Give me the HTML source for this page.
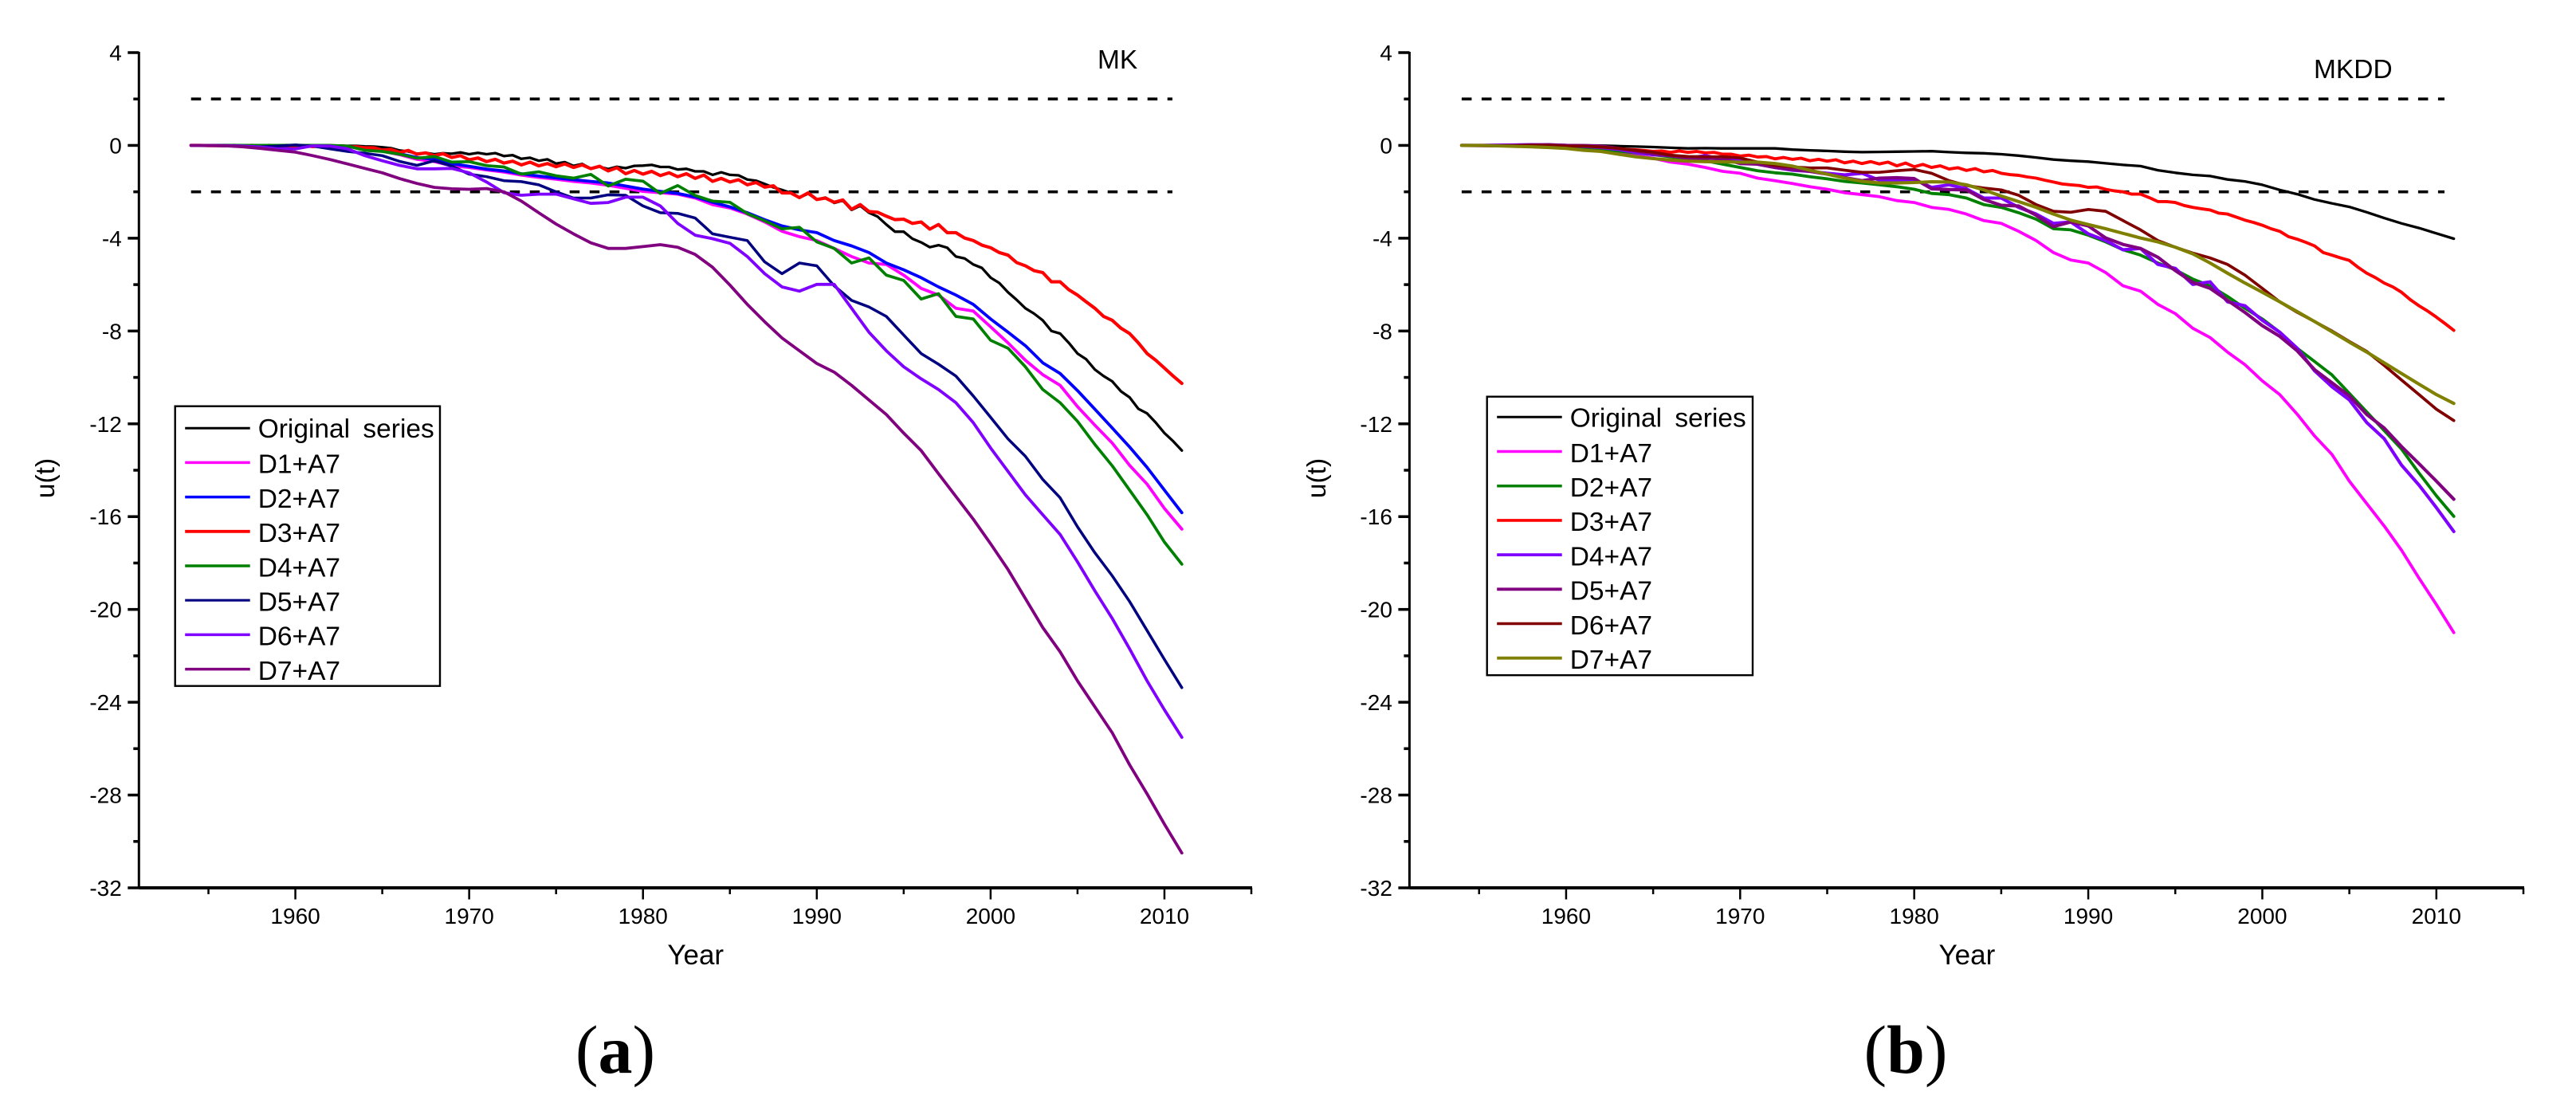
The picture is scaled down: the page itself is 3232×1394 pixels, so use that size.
<!DOCTYPE html>
<html lang="en">
<head>
<meta charset="utf-8">
<title>MK and MKDD u(t) curves</title>
<style>
html,body{margin:0;padding:0;background:#fff;width:3232px;height:1394px;overflow:hidden}
svg{display:block}
text{font-family:"Liberation Sans",sans-serif;fill:#000}
.paren{font-family:"Liberation Serif",serif;font-size:86px}
</style>
</head>
<body>
<svg id="figure" xmlns="http://www.w3.org/2000/svg" width="3232" height="1394" viewBox="0 0 3232 1394">
  <rect width="3232" height="1394" fill="#fff"/>
  <text class="paren" x="772" y="1346" text-anchor="middle">(<tspan font-weight="bold">a</tspan>)</text>
  <text class="paren" x="2391" y="1346" text-anchor="middle">(<tspan font-weight="bold">b</tspan>)</text>
</svg>
<script>
// ---- shared data ----
const firstYear = 1954;
const thresholds = [2, -2];
const xMajorTicks = [1960, 1970, 1980, 1990, 2000, 2010];
const xMinorTicks = [1955, 1965, 1975, 1985, 1995, 2005, 2015];
const yMajorTicks = [4, 0, -4, -8, -12, -16, -20, -24, -28, -32];
const yMinorTicks = [2, -2, -6, -10, -14, -18, -22, -26, -30];
const legendLabels = ["Original series", "D1+A7", "D2+A7", "D3+A7", "D4+A7", "D5+A7", "D6+A7", "D7+A7"];

// ---- panel (a) MK: half-year samples ----
const mkOriginal = [0,0,0,0,0,0,0,0,0,0,0,0,.01,.01,0,0,-.01,-.01,-.02,-.02,-.04,-.05,
-.08,-.12,-.22,-.26,-.36,-.32,-.38,-.34,-.36,-.3,-.38,-.32,-.38,-.33,-.46,-.42,-.58,-.53,-.66,-.6,-.78,-.72,-.88,-.8,-1.0,-.92,-1.02,-.92,-.98,-.88,
-.87,-.84,-.93,-.93,-1.04,-1.01,-1.12,-1.12,-1.27,-1.16,-1.27,-1.29,-1.47,-1.52,-1.66,-1.81,-1.92,-2.05,-2.25,-2.08,-2.33,-2.25,-2.48,-2.38,-2.78,-2.6,-2.9,-3.07,-3.41,-3.72,
-3.72,-4.02,-4.18,-4.39,-4.3,-4.41,-4.79,-4.87,-5.13,-5.28,-5.7,-5.93,-6.33,-6.66,-7.02,-7.25,-7.54,-8.0,-8.11,-8.51,-8.97,-9.22,-9.66,-9.94,-10.17,-10.6,-10.86,-11.35,-11.55,-11.95,-12.4,-12.75,-13.15];
const mkD3 = [0,0,-.01,-.01,-.02,0,-.02,0,-.02,0,-.03,0,-.04,-.01,-.05,-.02,-.05,-.03,-.07,-.06,-.1,-.1,
-.2,-.17,-.3,-.22,-.38,-.32,-.44,-.36,-.52,-.44,-.62,-.54,-.7,-.6,-.76,-.68,-.84,-.72,-.88,-.78,-.92,-.8,-.95,-.84,-1.0,-.9,-1.1,-.96,-1.22,-1.08,
-1.24,-1.12,-1.3,-1.18,-1.35,-1.22,-1.42,-1.28,-1.55,-1.42,-1.58,-1.48,-1.7,-1.6,-1.8,-1.74,-2.05,-2.05,-2.25,-2.05,-2.33,-2.27,-2.45,-2.35,-2.75,-2.55,-2.85,-2.88,-3.05,-3.2,
-3.18,-3.36,-3.3,-3.61,-3.41,-3.76,-3.76,-3.99,-4.1,-4.3,-4.41,-4.62,-4.73,-5.05,-5.19,-5.4,-5.48,-5.88,-5.88,-6.22,-6.45,-6.74,-7.02,-7.37,-7.54,-7.88,-8.11,-8.51,-8.97,-9.26,-9.6,-9.94,-10.26];
// ---- panel (a) MK: annual samples ----
const mkD1 = [0,0,0,-.01,-.02,-.02,-.02,-.02,-.03,-.06,-.12,
-.25,-.4,-.6,-.7,-.88,-.95,-1.06,-1.15,-1.28,-1.38,-1.46,-1.55,-1.62,-1.72,-1.85,
-1.98,-2.04,-2.1,-2.27,-2.55,-2.7,-2.96,-3.3,-3.7,-3.93,-4.1,-4.44,-4.79,-5.07,-5.13,-5.59,-6.16,-6.45,-7.02,-7.14,
-7.82,-8.51,-9.26,-9.88,-10.34,-11.26,-12.06,-12.83,-13.79,-14.6,-15.65,-16.54];
const mkD2 = [0,0,0,-.01,-.02,-.02,-.02,-.02,-.03,-.05,-.1,
-.22,-.36,-.52,-.6,-.78,-.9,-1.02,-1.1,-1.22,-1.32,-1.4,-1.48,-1.55,-1.62,-1.75,
-1.88,-1.98,-2.07,-2.22,-2.45,-2.65,-2.9,-3.2,-3.47,-3.64,-3.76,-4.1,-4.33,-4.62,-5.07,-5.36,-5.7,-6.1,-6.45,-6.85,
-7.48,-8.05,-8.63,-9.37,-9.83,-10.57,-11.37,-12.18,-13.0,-13.88,-14.86,-15.83];
const mkD4 = [0,0,.01,0,0,0,.01,0,0,-.03,-.21,
-.26,-.38,-.55,-.48,-.72,-.7,-.87,-.93,-1.24,-1.14,-1.31,-1.41,-1.25,-1.75,-1.46,
-1.54,-2.07,-1.73,-2.16,-2.4,-2.45,-2.94,-3.25,-3.6,-3.53,-4.16,-4.44,-5.07,-4.85,-5.59,-5.82,-6.62,-6.39,-7.37,-7.48,
-8.4,-8.74,-9.54,-10.52,-11.09,-11.89,-12.89,-13.81,-14.86,-15.92,-17.1,-18.05];
const mkD5 = [0,-.01,-.02,-.04,-.06,-.03,.02,-.03,-.15,-.26,-.34,
-.44,-.69,-.86,-.66,-.89,-1.24,-1.35,-1.52,-1.56,-1.7,-2.0,-2.27,-2.27,-2.13,-2.15,
-2.61,-2.9,-2.93,-3.13,-3.81,-3.96,-4.1,-5.02,-5.53,-5.07,-5.19,-6.05,-6.68,-6.96,-7.37,-8.17,-8.97,-9.43,-9.94,-10.8,
-11.72,-12.65,-13.4,-14.4,-15.19,-16.44,-17.56,-18.55,-19.66,-20.91,-22.16,-23.37];
const mkD6 = [0,0,-.01,-.03,-.07,-.15,-.15,-.02,-.03,-.15,-.44,
-.66,-.86,-1.01,-1.01,-.99,-1.18,-1.58,-2.04,-2.15,-2.1,-2.1,-2.3,-2.5,-2.46,-2.23,
-2.23,-2.61,-3.36,-3.87,-4.02,-4.22,-4.79,-5.53,-6.1,-6.28,-5.99,-5.99,-7.02,-8.05,-8.85,-9.54,-10.06,-10.52,-11.09,-11.95,
-13.04,-14.05,-15.06,-15.92,-16.77,-17.95,-19.2,-20.39,-21.7,-23.08,-24.33,-25.51];
const mkD7 = [0,0,-.02,-.06,-.13,-.21,-.29,-.44,-.61,-.8,-.99,
-1.18,-1.43,-1.64,-1.81,-1.87,-1.89,-1.86,-2.0,-2.4,-2.9,-3.39,-3.81,-4.2,-4.44,-4.44,
-4.36,-4.28,-4.39,-4.7,-5.25,-6.02,-6.85,-7.6,-8.3,-8.85,-9.4,-9.77,-10.34,-10.97,-11.6,-12.4,-13.15,-14.15,-15.13,-16.11,
-17.17,-18.28,-19.53,-20.78,-21.83,-23.08,-24.2,-25.32,-26.7,-27.95,-29.26,-30.5];

// ---- panel (b) MKDD: half-year samples ----
const mkddD3 = [0,0,0,0,0,.01,.01,.02,0,.01,0,-.01,-.03,-.02,-.04,-.04,-.07,-.09,-.14,-.17,-.19,-.22,
-.26,-.24,-.3,-.24,-.3,-.26,-.32,-.3,-.38,-.38,-.46,-.42,-.5,-.48,-.58,-.52,-.6,-.55,-.66,-.6,-.68,-.62,-.75,-.68,-.78,-.7,-.8,-.72,-.88,-.76,
-.92,-.82,-.95,-.88,-1.02,-.96,-1.08,-1.0,-1.14,-1.08,-1.2,-1.26,-1.29,-1.36,-1.41,-1.5,-1.58,-1.66,-1.7,-1.73,-1.81,-1.79,-1.89,-1.96,-2.0,-2.1,-2.1,-2.25,-2.42,-2.42,
-2.46,-2.59,-2.67,-2.73,-2.78,-2.92,-2.96,-3.09,-3.22,-3.32,-3.44,-3.59,-3.7,-3.93,-4.04,-4.18,-4.33,-4.62,-4.73,-4.85,-4.96,-5.25,-5.51,-5.7,-5.93,-6.1,-6.33,-6.65,-6.91,-7.14,-7.4,-7.68,-7.97];
// ---- panel (b) MKDD: annual samples ----
const mkddOriginal = [0,0,0,0,0,0,0,0,-.01,-.03,-.05,
-.07,-.1,-.13,-.12,-.13,-.13,-.13,-.13,-.18,-.21,-.24,-.27,-.29,-.28,-.27,
-.26,-.25,-.29,-.32,-.34,-.38,-.44,-.52,-.61,-.66,-.7,-.77,-.84,-.89,-1.07,-1.18,-1.27,-1.32,-1.47,-1.55,
-1.7,-1.92,-2.1,-2.33,-2.5,-2.65,-2.88,-3.13,-3.36,-3.56,-3.79,-4.02];
const mkddD1 = [0,0,0,-.01,-.02,-.03,-.04,-.1,-.24,-.32,-.44,
-.55,-.72,-.81,-.95,-1.12,-1.2,-1.41,-1.52,-1.64,-1.78,-1.89,-2.04,-2.12,-2.21,-2.38,
-2.46,-2.67,-2.76,-2.96,-3.24,-3.36,-3.7,-4.1,-4.62,-4.94,-5.07,-5.48,-6.05,-6.28,-6.85,-7.25,-7.88,-8.28,-8.91,-9.45,
-10.15,-10.74,-11.58,-12.52,-13.32,-14.47,-15.44,-16.4,-17.45,-18.65,-19.79,-21.0];
const mkddD2 = [0,0,0,0,0,-.01,-.03,-.08,-.15,-.24,-.32,
-.4,-.49,-.58,-.66,-.81,-.95,-1.09,-1.18,-1.24,-1.35,-1.44,-1.55,-1.62,-1.7,-1.78,
-1.89,-2.07,-2.12,-2.27,-2.55,-2.67,-2.9,-3.18,-3.59,-3.64,-3.87,-4.16,-4.5,-4.73,-5.07,-5.36,-5.76,-6.05,-6.51,-7.02,
-7.48,-8.05,-8.74,-9.31,-9.89,-10.69,-11.49,-12.29,-13.09,-14.12,-15.1,-15.99];
const mkddD4 = [0,0,.01,.02,.03,.02,0,-.04,-.09,-.17,-.3,
-.4,-.44,-.55,-.44,-.61,-.61,-.81,-.95,-1.07,-1.12,-1.2,-1.27,-1.2,-1.5,-1.5,
-1.47,-1.81,-1.7,-1.87,-2.27,-2.27,-2.67,-2.96,-3.36,-3.3,-3.81,-4.1,-4.5,-4.44,-5.13,-5.3,-5.99,-5.88,-6.74,-6.91,
-7.54,-8.05,-8.74,-9.71,-10.4,-10.97,-11.95,-12.64,-13.78,-14.64,-15.61,-16.64];
const mkddD5 = [0,-.01,-.02,-.01,.02,.03,0,-.01,-.03,-.13,-.24,
-.36,-.44,-.55,-.55,-.58,-.78,-.81,-.95,-1.04,-1.12,-1.24,-1.39,-1.52,-1.41,-1.39,
-1.43,-1.87,-1.9,-1.92,-2.33,-2.58,-2.61,-3.01,-3.5,-3.3,-3.47,-3.99,-4.27,-4.44,-4.82,-5.4,-5.9,-6.16,-6.68,-7.2,
-7.77,-8.23,-8.85,-9.66,-10.23,-10.8,-11.6,-12.18,-12.98,-13.72,-14.47,-15.25];
const mkddD6 = [0,0,-.01,-.01,0,0,-.03,-.03,-.07,-.13,-.21,
-.29,-.42,-.48,-.49,-.49,-.54,-.72,-.86,-.93,-.97,-.97,-1.07,-1.16,-1.16,-1.09,
-1.04,-1.2,-1.52,-1.73,-1.84,-1.92,-2.15,-2.55,-2.84,-2.88,-2.76,-2.84,-3.24,-3.64,-4.1,-4.39,-4.64,-4.85,-5.13,-5.59,
-6.16,-6.74,-7.19,-7.59,-8.0,-8.45,-8.88,-9.48,-10.11,-10.74,-11.37,-11.86];
const mkddD7 = [0,0,-.02,-.04,-.06,-.09,-.13,-.21,-.26,-.38,-.49,
-.57,-.63,-.68,-.7,-.71,-.72,-.72,-.78,-.89,-1.07,-1.24,-1.41,-1.55,-1.62,-1.62,
-1.6,-1.57,-1.58,-1.7,-1.92,-2.18,-2.42,-2.67,-2.96,-3.22,-3.41,-3.59,-3.79,-3.99,-4.16,-4.39,-4.67,-5.07,-5.51,-5.93,
-6.33,-6.74,-7.16,-7.59,-8.03,-8.48,-8.91,-9.37,-9.83,-10.29,-10.74,-11.12];

// ---- drawing ----
const SVG_NS = 'http://www.w3.org/2000/svg';
const figure = document.getElementById('figure');

function node(tag, parent, attrs) {
  const el = document.createElementNS(SVG_NS, tag);
  for (const k in attrs) el.setAttribute(k, attrs[k]);
  parent.appendChild(el);
  return el;
}
function tickText(parent, x, y, anchor, size, str, name) {
  const t = node('text', parent, { x: x, y: y, 'text-anchor': anchor, 'font-size': size });
  t.textContent = str;
  
  
  return t;
}

function drawPanel(p) {
  const g = node('g', figure, {});
  
  

  const xOf = yr => p.xLeft + (yr - 1951) * (p.xRight - p.xLeft) / (2015 - 1951);
  const yOf = v => 66 + (4 - v) * (1114 - 66) / 36;

  // axes
  const yAxis = node('line', g, { x1: p.xLeft, x2: p.xLeft, y1: yOf(4) - 1, y2: yOf(-32), stroke: '#000', 'stroke-width': 3 });
  
  
  const xAxis = node('line', g, { x1: p.xLeft, x2: p.xRight + 1, y1: yOf(-32), y2: yOf(-32), stroke: '#000', 'stroke-width': 4 });
  
  

  yMajorTicks.forEach(v => {
    const t = node('line', g, { x1: p.xLeft - 14, x2: p.xLeft, y1: yOf(v), y2: yOf(v), stroke: '#000', 'stroke-width': 3.5 });
    
    
    tickText(g, p.xLeft - 21.5, yOf(v) + 10, 'end', 28, String(v), 'y-tick-label');
  });
  yMinorTicks.forEach(v => {
    const t = node('line', g, { x1: p.xLeft - 7, x2: p.xLeft, y1: yOf(v), y2: yOf(v), stroke: '#000', 'stroke-width': 3.5 });
    
    
  });
  xMajorTicks.forEach(yr => {
    const t = node('line', g, { x1: xOf(yr), x2: xOf(yr), y1: yOf(-32), y2: yOf(-32) + 14.5, stroke: '#000', 'stroke-width': 2.5 });
    
    
    tickText(g, xOf(yr), 1159, 'middle', 28, String(yr), 'x-tick-label');
  });
  xMinorTicks.forEach(yr => {
    const t = node('line', g, { x1: xOf(yr), x2: xOf(yr), y1: yOf(-32), y2: yOf(-32) + 8, stroke: '#000', 'stroke-width': 2.5 });
    
    
  });

  tickText(g, xOf(1954) + (p.id === 'mk' ? 633 : 634), 1210, 'middle', 35, 'Year', 'x-axis-title');
  const yTitle = tickText(g, 0, 0, 'middle', 33.5, 'u(t)', 'y-axis-title');
  yTitle.setAttribute('transform', 'translate(' + p.yTitleX + ',600) rotate(-90)');
  tickText(g, p.titleX, p.titleY, 'start', 33.5, p.title, 'panel-title');

  // threshold lines
  thresholds.forEach(v => {
    const d = node('line', g, { x1: xOf(1954), x2: p.dashEnd, y1: yOf(v), y2: yOf(v), stroke: '#000', 'stroke-width': 3.6, 'stroke-dasharray': '12.5 12.5' });
    
    
  });

  // series
  p.series.forEach((s, idx) => {
    const pts = s.values.map((v, i) => xOf(firstYear + i * s.step).toFixed(1) + ',' + yOf(v).toFixed(1)).join(' ');
    const line = node('polyline', g, { points: pts, fill: 'none', stroke: s.color, 'stroke-width': s.width + 0.3, 'stroke-linejoin': 'round', 'stroke-linecap': 'round' });
    
    
  });

  // legend
  const lg = node('g', g, {});
  
  
  const box = node('rect', lg, { x: p.legend.x, y: p.legend.y, width: p.legend.w, height: p.legend.h, fill: 'none', stroke: '#000', 'stroke-width': 2.4 });
  
  
  legendLabels.forEach((label, i) => {
    const rowY = p.legend.y + p.legend.firstRow + i * 43.2;
    const sample = node('line', lg, { x1: p.legend.x + 12.5, x2: p.legend.x + 94, y1: rowY, y2: rowY, stroke: p.series[i].color, 'stroke-width': p.series[i].width });
    
    
    const t = tickText(lg, p.legend.x + 104, rowY + (i === 0 ? 12 : 13.3), 'start', 33.5, label, 'legend-entry');
    if (i === 0) t.setAttribute('word-spacing', '7');
  });
}

drawPanel({
  id: 'mk', title: 'MK', titleX: 1377, titleY: 86, xLeft: 174.3, xRight: 1570, dashEnd: 1471, yTitleX: 68,
  legend: { x: 219.7, y: 509.7, w: 332.3, h: 351, firstRow: 27.5 },
  series: [
    { values: mkOriginal, step: .5, color: '#000000', width: 3 },
    { values: mkD1, step: 1, color: '#ff00ff', width: 3.5 },
    { values: mkD2, step: 1, color: '#0000ff', width: 3.5 },
    { values: mkD3, step: .5, color: '#ff0000', width: 3.8 },
    { values: mkD4, step: 1, color: '#008000', width: 3.4 },
    { values: mkD5, step: 1, color: '#000080', width: 3.2 },
    { values: mkD6, step: 1, color: '#8000ff', width: 3.5 },
    { values: mkD7, step: 1, color: '#800080', width: 3.5 }
  ]
});
drawPanel({
  id: 'mkdd', title: 'MKDD', titleX: 2903, titleY: 98, xLeft: 1768.4, xRight: 3166, dashEnd: 3067, yTitleX: 1663,
  legend: { x: 1865.7, y: 497.7, w: 333.3, h: 349.5, firstRow: 25.6 },
  series: [
    { values: mkddOriginal, step: 1, color: '#000000', width: 3 },
    { values: mkddD1, step: 1, color: '#ff00ff', width: 3.5 },
    { values: mkddD2, step: 1, color: '#008000', width: 3.5 },
    { values: mkddD3, step: .5, color: '#ff0000', width: 3.6 },
    { values: mkddD4, step: 1, color: '#8000ff', width: 3.8 },
    { values: mkddD5, step: 1, color: '#800080', width: 3.8 },
    { values: mkddD6, step: 1, color: '#800000', width: 3.4 },
    { values: mkddD7, step: 1, color: '#808000', width: 3.8 }
  ]
});
</script>
</body>
</html>
